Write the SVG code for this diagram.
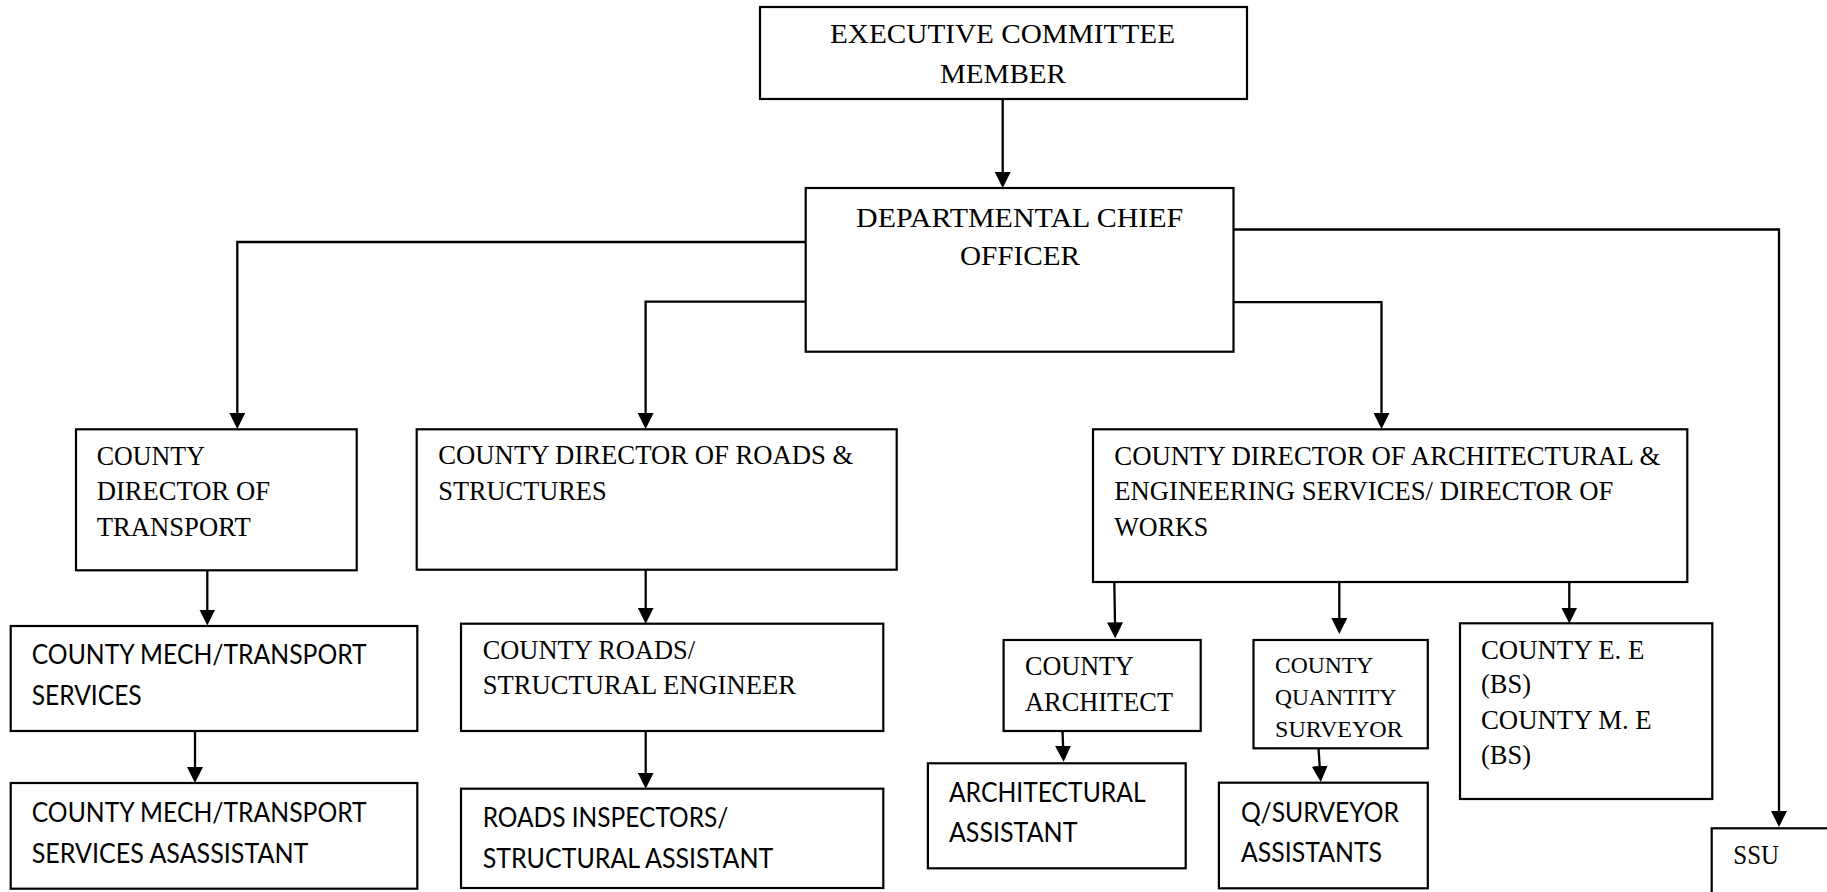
<svg xmlns="http://www.w3.org/2000/svg" width="1827" height="892" viewBox="0 0 1827 892">
<style>
.box{fill:#fff;stroke:#000;stroke-width:2.2}
.serif{font-family:"Liberation Serif","Times New Roman",serif;font-size:26.5px;fill:#000}
.big{font-size:28px}
.small{font-size:23.6px}
.sans{font-family:Lato,"Liberation Sans",sans-serif;font-size:26px;fill:#000}
.conn{fill:none;stroke:#000;stroke-width:2.3}
</style>
<defs>
<marker id="arr" markerUnits="userSpaceOnUse" markerWidth="16" markerHeight="16" viewBox="0 0 16 16" refX="12" refY="8" orient="auto">
<path d="M0,0 L16,8 L0,16 Z" fill="#000"/>
</marker>
</defs>
<rect width="1827" height="892" fill="#fff"/>
<g id="connectors">
<path class="conn" marker-end="url(#arr)" d="M1002.7,99 V184"/>
<path class="conn" marker-end="url(#arr)" d="M805.7,242 H237.3 V425"/>
<path class="conn" marker-end="url(#arr)" d="M805.7,301.7 H645.6 V425"/>
<path class="conn" marker-end="url(#arr)" d="M1233.5,302.2 H1381.5 V425"/>
<path class="conn" marker-end="url(#arr)" d="M1233.5,229.5 H1779 V823"/>
<path class="conn" marker-end="url(#arr)" d="M207.3,570.3 V621.5"/>
<path class="conn" marker-end="url(#arr)" d="M195,731 V779"/>
<path class="conn" marker-end="url(#arr)" d="M645.7,569.7 V619.7"/>
<path class="conn" marker-end="url(#arr)" d="M645.7,731 V784.7"/>
<path class="conn" marker-end="url(#arr)" d="M1114.3,582 L1115.2,634.3"/>
<path class="conn" marker-end="url(#arr)" d="M1339.3,582 V630"/>
<path class="conn" marker-end="url(#arr)" d="M1569.3,582 V619.5"/>
<path class="conn" marker-end="url(#arr)" d="M1062.5,731 L1063.5,757.8"/>
<path class="conn" marker-end="url(#arr)" d="M1318.5,748.3 L1320.5,778"/>
</g>
<g id="exec">
<rect class="box" x="760" y="7" width="487" height="92"/>
<text class="serif big" x="830" y="43.3" textLength="345" lengthAdjust="spacingAndGlyphs">EXECUTIVE COMMITTEE</text>
<text class="serif big" x="940" y="82.7" textLength="126" lengthAdjust="spacingAndGlyphs">MEMBER</text>
</g>
<g id="dept">
<rect class="box" x="805.7" y="188" width="427.8" height="163.7"/>
<text class="serif big" x="856" y="226.7" textLength="327.3" lengthAdjust="spacingAndGlyphs">DEPARTMENTAL CHIEF</text>
<text class="serif big" x="960" y="265" textLength="120" lengthAdjust="spacingAndGlyphs">OFFICER</text>
</g>
<g id="transport">
<rect class="box" x="76" y="429.3" width="280.7" height="141"/>
<text class="serif" x="96.7" y="465.3" textLength="108.3" lengthAdjust="spacingAndGlyphs">COUNTY</text>
<text class="serif" x="96.7" y="500.3" textLength="173.3" lengthAdjust="spacingAndGlyphs">DIRECTOR OF</text>
<text class="serif" x="96.7" y="536.3" textLength="154" lengthAdjust="spacingAndGlyphs">TRANSPORT</text>
</g>
<g id="roads">
<rect class="box" x="416.7" y="429.3" width="480" height="140.4"/>
<text class="serif" x="438.3" y="464.3" textLength="415" lengthAdjust="spacingAndGlyphs">COUNTY DIRECTOR OF ROADS &amp;</text>
<text class="serif" x="438.3" y="499.7" textLength="168.3" lengthAdjust="spacingAndGlyphs">STRUCTURES</text>
</g>
<g id="archdir">
<rect class="box" x="1093" y="429.3" width="594.3" height="152.7"/>
<text class="serif" x="1114.3" y="465" textLength="546" lengthAdjust="spacingAndGlyphs">COUNTY DIRECTOR OF ARCHITECTURAL &amp;</text>
<text class="serif" x="1114.3" y="500" textLength="499" lengthAdjust="spacingAndGlyphs">ENGINEERING SERVICES/ DIRECTOR OF</text>
<text class="serif" x="1114.3" y="536" textLength="94" lengthAdjust="spacingAndGlyphs">WORKS</text>
</g>
<g id="mech">
<rect class="box" x="10.7" y="626" width="406.6" height="105"/>
<text class="sans" x="31.7" y="664.3" textLength="335" lengthAdjust="spacingAndGlyphs">COUNTY MECH/TRANSPORT</text>
<text class="sans" x="31.7" y="705.3" textLength="110" lengthAdjust="spacingAndGlyphs">SERVICES</text>
</g>
<g id="mechasst">
<rect class="box" x="10.7" y="783" width="406.6" height="105.7"/>
<text class="sans" x="31.7" y="822" textLength="335" lengthAdjust="spacingAndGlyphs">COUNTY MECH/TRANSPORT</text>
<text class="sans" x="31.7" y="862.7" textLength="276.7" lengthAdjust="spacingAndGlyphs">SERVICES ASASSISTANT</text>
</g>
<g id="roadseng">
<rect class="box" x="461" y="623.7" width="422.3" height="107.3"/>
<text class="serif" x="482.7" y="658.7" textLength="212.3" lengthAdjust="spacingAndGlyphs">COUNTY ROADS/</text>
<text class="serif" x="482.7" y="693.7" textLength="313.3" lengthAdjust="spacingAndGlyphs">STRUCTURAL ENGINEER</text>
</g>
<g id="roadsinsp">
<rect class="box" x="461" y="788.7" width="422.3" height="99.3"/>
<text class="sans" x="482.7" y="827" textLength="245.7" lengthAdjust="spacingAndGlyphs">ROADS INSPECTORS/</text>
<text class="sans" x="482.7" y="867.7" textLength="290.7" lengthAdjust="spacingAndGlyphs">STRUCTURAL ASSISTANT</text>
</g>
<g id="architect">
<rect class="box" x="1003.6" y="640" width="197.1" height="91"/>
<text class="serif" x="1025" y="675" textLength="108.9" lengthAdjust="spacingAndGlyphs">COUNTY</text>
<text class="serif" x="1025" y="710.7" textLength="148" lengthAdjust="spacingAndGlyphs">ARCHITECT</text>
</g>
<g id="archasst">
<rect class="box" x="927.9" y="763.3" width="257.8" height="105"/>
<text class="sans" x="948.9" y="801.7" textLength="196.8" lengthAdjust="spacingAndGlyphs">ARCHITECTURAL</text>
<text class="sans" x="948.9" y="842.3" textLength="128.6" lengthAdjust="spacingAndGlyphs">ASSISTANT</text>
</g>
<g id="qs">
<rect class="box" x="1253.5" y="640" width="174.3" height="108.3"/>
<text class="serif small" x="1275" y="673.3" textLength="98.2" lengthAdjust="spacingAndGlyphs">COUNTY</text>
<text class="serif small" x="1275" y="705" textLength="121.4" lengthAdjust="spacingAndGlyphs">QUANTITY</text>
<text class="serif small" x="1275" y="736.7" textLength="127.8" lengthAdjust="spacingAndGlyphs">SURVEYOR</text>
</g>
<g id="qsasst">
<rect class="box" x="1218.9" y="782.7" width="208.9" height="105.6"/>
<text class="sans" x="1241" y="821.7" textLength="158" lengthAdjust="spacingAndGlyphs">Q/SURVEYOR</text>
<text class="sans" x="1241" y="861.7" textLength="141" lengthAdjust="spacingAndGlyphs">ASSISTANTS</text>
</g>
<g id="engineers">
<rect class="box" x="1460" y="623.3" width="252.3" height="175.7"/>
<text class="serif" x="1481" y="659" textLength="163.3" lengthAdjust="spacingAndGlyphs">COUNTY E. E</text>
<text class="serif" x="1481" y="693.3" textLength="50" lengthAdjust="spacingAndGlyphs">(BS)</text>
<text class="serif" x="1481" y="729" textLength="170.7" lengthAdjust="spacingAndGlyphs">COUNTY M. E</text>
<text class="serif" x="1481" y="764" textLength="50" lengthAdjust="spacingAndGlyphs">(BS)</text>
</g>
<g id="ssu">
<rect class="box" x="1711.7" y="828.3" width="140" height="100"/>
<text class="serif" x="1733.3" y="864.3" textLength="45.7" lengthAdjust="spacingAndGlyphs">SSU</text>
</g>
</svg>
